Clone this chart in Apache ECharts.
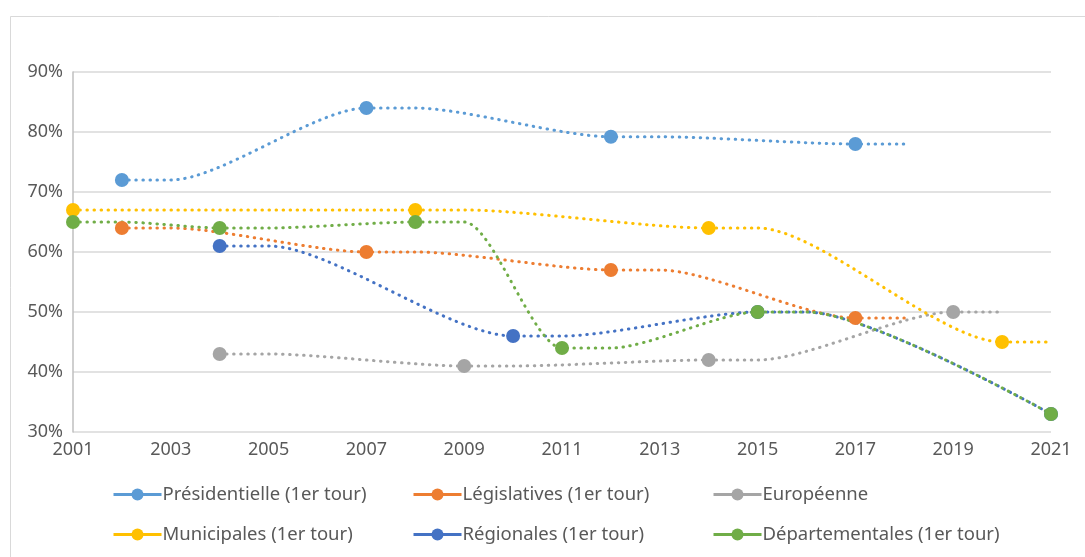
<!DOCTYPE html>
<html>
<head>
<meta charset="utf-8">
<script src="https://cdn.jsdelivr.net/npm/echarts@6/dist/echarts.min.js"></script>
<style>
html,body{margin:0;padding:0;background:#fff;}
#chart{width:1085px;height:557px;}
</style>
</head>
<body>
<div id="chart"></div>
<script>
// ---- data ----
const seriesNames = ["Présidentielle (1er tour)", "Législatives (1er tour)", "Européenne",
                     "Municipales (1er tour)", "Régionales (1er tour)", "Départementales (1er tour)"];
const presYears = [2002, 2003, 2007, 2008, 2012, 2013, 2017, 2018];
const presVals  = [72, 72, 84, 84, 79.2, 79.2, 78, 78];
const presMarks = [2002, 2007, 2012, 2017];

const legYears = [2002, 2003, 2007, 2008, 2012, 2013, 2017, 2018];
const legVals  = [64, 64, 60, 60, 57, 57, 49, 49];
const legMarks = [2002, 2007, 2012, 2017];

const euroYears = [2004, 2005, 2009, 2010, 2014, 2015, 2019, 2020];
const euroVals  = [43, 43, 41, 41, 42, 42, 50, 50];
const euroMarks = [2004, 2009, 2014, 2019];

const muniYears = [2001, 2002, 2008, 2009, 2014, 2015, 2020, 2021];
const muniVals  = [67, 67, 67, 67, 64, 64, 45, 45];
const muniMarks = [2001, 2008, 2014, 2020];

const regYears = [2004, 2005, 2010, 2011, 2015, 2016, 2021];
const regVals  = [61, 61, 46, 46, 50, 50, 33];
const regMarks = [2004, 2010, 2015, 2021];

const depYears = [2001, 2002, 2004, 2005, 2008, 2009, 2011, 2012, 2015, 2016, 2021];
const depVals  = [65, 65, 64, 64, 65, 65, 44, 44, 50, 50, 33];
const depMarks = [2001, 2004, 2008, 2011, 2015, 2021];

const xTicks = [2001, 2003, 2005, 2007, 2009, 2011, 2013, 2015, 2017, 2019, 2021];
const yTicks = [30, 40, 50, 60, 70, 80, 90];

// ---- styles ----
const colors = ["#5B9BD5", "#ED7D31", "#A5A5A5", "#FFC000", "#4472C4", "#70AD47"];
const FONT = "Noto Sans";

function buildData(years, vals, marks) {
  return years.map((y, i) => {
    const item = { value: [y, vals[i]] };
    if (marks.indexOf(y) < 0) item.symbol = 'none';
    return item;
  });
}

const allSets = [
  [presYears, presVals, presMarks],
  [legYears, legVals, legMarks],
  [euroYears, euroVals, euroMarks],
  [muniYears, muniVals, muniMarks],
  [regYears, regVals, regMarks],
  [depYears, depVals, depMarks]
];

const series = allSets.map((s, i) => ({
  name: seriesNames[i],
  type: 'line',
  data: buildData(s[0], s[1], s[2]),
  smooth: 0.25,
  symbol: 'circle',
  symbolSize: 14,
  showAllSymbol: true,
  color: colors[i],
  itemStyle: { color: colors[i] },
  lineStyle: { color: colors[i], width: 3, type: [0.5, 6.5], cap: 'round' },
  emphasis: { disabled: true },
  animation: false
}));

const legendPos = [[112, 485], [412, 485], [712, 485], [112, 525], [412, 525], [712, 525]];
const legends = seriesNames.map((n, i) => ({
  data: [n],
  left: legendPos[i][0],
  top: legendPos[i][1],
  padding: 0,
  itemWidth: 48,
  itemHeight: 15,
  itemGap: 0,
  lineStyle: { type: 'solid', width: 3, cap: 'butt' },
  textStyle: { fontFamily: FONT, fontSize: 18.5, color: '#595959', padding: [0, 0, 0, -4] },
  selectedMode: false
}));

const chart = echarts.init(document.getElementById('chart'));
chart.setOption({
  backgroundColor: '#ffffff',
  animation: false,
  graphic: [{
    type: 'rect',
    shape: { x: 10.5, y: 16.5, width: 1100, height: 600 },
    style: { fill: 'none', stroke: '#d9d9d9', lineWidth: 1 },
    silent: true
  }],
  legend: legends,
  grid: { left: 73, right: 34, top: 72, bottom: 125, containLabel: false },
  xAxis: {
    type: 'value',
    min: 2001, max: 2021, interval: 2,
    axisLine: { show: false },
    axisTick: { show: false },
    splitLine: { show: false },
    axisLabel: {
      fontFamily: FONT, fontSize: 18, color: '#595959', margin: 9,
      formatter: v => (xTicks.indexOf(v) >= 0 ? String(v) : '')
    }
  },
  yAxis: {
    type: 'value',
    min: 30, max: 90, interval: 10,
    axisLine: { show: true, lineStyle: { color: '#bfbfbf', width: 1.5 } },
    axisTick: { show: false },
    splitLine: { show: true, lineStyle: { color: '#d9d9d9', width: 1.5 } },
    axisLabel: {
      fontFamily: FONT, fontSize: 18, color: '#595959', margin: 10,
      formatter: v => (yTicks.indexOf(v) >= 0 ? v + '%' : '')
    }
  },
  series: series
});
</script>
</body>
</html>
